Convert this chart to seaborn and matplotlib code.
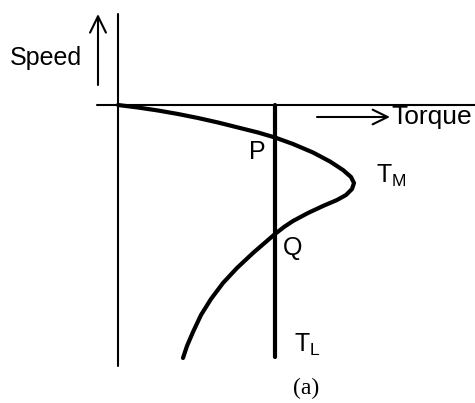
import numpy as np
import pandas as pd
import matplotlib
matplotlib.use('Agg')
import matplotlib.pyplot as plt
import seaborn as sns

# motor torque-speed curve (speed measured downward from the origin)
torque = [0.00, 0.20, 0.40, 0.60, 0.80, 1.00, 1.20, 1.40, 1.57, 1.75, 1.95,
          2.12, 2.25, 2.33, 2.36, 2.34, 2.28, 2.19, 2.05, 1.90, 1.75, 1.66,
          1.57, 1.46, 1.35, 1.19, 1.05, 0.93, 0.83, 0.75, 0.69, 0.65]
speed = [0.000, -0.025, -0.055, -0.090, -0.130, -0.175, -0.225, -0.275,
         -0.325, -0.390, -0.475, -0.565, -0.650, -0.720, -0.780, -0.840,
         -0.900, -0.950, -1.010, -1.080, -1.160, -1.220, -1.290, -1.385,
         -1.480, -1.630, -1.780, -1.940, -2.100, -2.270, -2.410, -2.530]
load_torque = 1.57
point_labels = ['P', 'Q']

sns.set_theme(style='white')
plt.rcParams['font.family'] = ['Liberation Sans', 'DejaVu Sans']
plt.rcParams['text.color'] = 'black'
plt.rcParams['mathtext.fontset'] = 'custom'
plt.rcParams['mathtext.rm'] = 'Liberation Sans'
plt.rcParams['mathtext.it'] = 'Liberation Sans'

df = pd.DataFrame({'torque': torque, 'speed': speed})

fig = plt.figure(figsize=(4.75, 4.03), dpi=100)
ax = fig.add_axes([0, 0, 1, 1])

# axes lines
ax.plot([0, 0], [0.91, -2.61], color='black', lw=1.5)
ax.plot([-0.21, 3.57], [0, 0], color='black', lw=1.5)

# load line
ax.plot([load_torque, load_torque], [0, -2.52], color='black', lw=3)

sns.lineplot(data=df, x='torque', y='speed', sort=False, estimator=None,
             color='black', lw=3, ax=ax)
ax.lines[-1].set_solid_joinstyle('round')
ax.set_xlim(-1.18, 3.57)
ax.set_ylim(-2.98, 1.05)
ax.axis('off')

# direction arrows
head = '->,head_length=0.45,head_width=0.22'
ax.annotate('', xy=(-0.20, 0.91), xytext=(-0.20, 0.20),
            arrowprops=dict(arrowstyle=head, color='black', lw=1.5,
                            mutation_scale=26, shrinkA=0, shrinkB=0))
ax.annotate('', xy=(2.72, -0.12), xytext=(1.99, -0.12),
            arrowprops=dict(arrowstyle=head, color='black', lw=1.5,
                            mutation_scale=24, shrinkA=0, shrinkB=0))

ax.text(-0.72, 0.47, 'Speed', fontsize=18, ha='center', va='center')
ax.text(2.73, -0.12, 'Torque', fontsize=19, ha='left', va='center')
ax.text(2.73, -0.71, r'T$_\mathrm{M}$', fontsize=18, ha='center', va='center')
ax.text(1.39, -0.47, point_labels[0], fontsize=18, ha='center', va='center')
ax.text(1.75, -1.43, point_labels[1], fontsize=18, ha='center', va='center')
ax.text(1.89, -2.40, r'T$_\mathrm{L}$', fontsize=18, ha='center', va='center')
ax.text(1.88, -2.83, '(a)', fontsize=17, ha='center', va='center',
        family='Liberation Serif')

fig.savefig('out.png', dpi=100)
